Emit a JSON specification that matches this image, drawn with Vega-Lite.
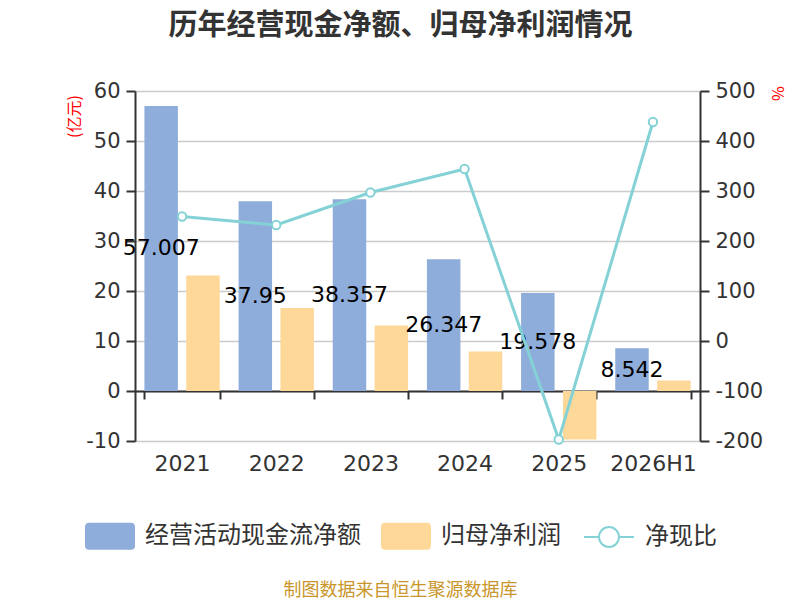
{
  "$schema": "https://vega.github.io/schema/vega-lite/v6.json",
  "autosize": {"type": "none"},
  "width": 565,
  "height": 350,
  "padding": {"left": 135, "top": 91, "right": 100, "bottom": 159},
  "background": "white",
  "config": {
    "font": "Noto Sans CJK SC",
    "view": {"stroke": null}
  },
  "title": {
    "text": "历年经营现金净额、归母净利润情况",
    "fontSize": 29,
    "fontWeight": "bold",
    "color": "#333333",
    "anchor": "middle",
    "dx": -17,
    "offset": 39
  },
  "datasets": {
    "flows": [
      {"year": "2021", "series": "经营活动现金流净额", "value": 57.007},
      {"year": "2022", "series": "经营活动现金流净额", "value": 37.95},
      {"year": "2023", "series": "经营活动现金流净额", "value": 38.357},
      {"year": "2024", "series": "经营活动现金流净额", "value": 26.347},
      {"year": "2025", "series": "经营活动现金流净额", "value": 19.578},
      {"year": "2026H1", "series": "经营活动现金流净额", "value": 8.542},
      {"year": "2021", "series": "归母净利润", "value": 23.1},
      {"year": "2022", "series": "归母净利润", "value": 16.6},
      {"year": "2023", "series": "归母净利润", "value": 13.1},
      {"year": "2024", "series": "归母净利润", "value": 7.9},
      {"year": "2025", "series": "归母净利润", "value": -9.7},
      {"year": "2026H1", "series": "归母净利润", "value": 2.1}
    ],
    "ratio": [
      {"year": "2021", "ratio": 249},
      {"year": "2022", "ratio": 232},
      {"year": "2023", "ratio": 297},
      {"year": "2024", "ratio": 344},
      {"year": "2025", "ratio": -197},
      {"year": "2026H1", "ratio": 438}
    ]
  },
  "encoding": {
    "x": {
      "field": "year",
      "type": "nominal",
      "sort": ["2021", "2022", "2023", "2024", "2025", "2026H1"],
      "scale": {"paddingInner": 0.2, "paddingOuter": 0.1},
      "title": "制图数据来自恒生聚源数据库",
      "axis": {
        "offset": -50,
        "domain": true,
        "domainColor": "#333333",
        "domainWidth": 2,
        "ticks": true,
        "tickBand": "extent",
        "tickColor": "#333333",
        "tickWidth": 2,
        "tickSize": 8,
        "labelAngle": 0,
        "labelPadding": 54,
        "labelFont": "DejaVu Sans",
        "labelFontSize": 22,
        "labelColor": "#333333",
        "grid": false,
        "titleColor": "#C9962B",
        "titleFontSize": 18,
        "titleFontWeight": "normal",
        "titleY": 199,
        "titleBaseline": "middle",
        "titleX": 265
      }
    }
  },
  "layer": [
    {
      "data": {"name": "flows"},
      "mark": {"type": "bar"},
      "encoding": {
        "xOffset": {
          "field": "series",
          "type": "nominal",
          "sort": ["经营活动现金流净额", "归母净利润"],
          "scale": {"paddingInner": 0.2}
        },
        "y": {
          "field": "value",
          "type": "quantitative",
          "scale": {"domain": [-10, 60], "nice": false},
          "title": "(亿元)",
          "axis": {
            "values": [-10, 0, 10, 20, 30, 40, 50, 60],
            "labelExpr": "replace(datum.label, '−', '-')",
            "grid": true,
            "gridColor": "#cccccc",
            "gridWidth": 1.5,
            "domain": true,
            "domainColor": "#333333",
            "domainWidth": 2,
            "tickColor": "#333333",
            "tickWidth": 2,
            "tickSize": 9,
            "labelFont": "DejaVu Sans",
            "labelFontSize": 21,
            "labelColor": "#333333",
            "labelPadding": 6,
            "titleColor": "#ff0000",
            "titleFontSize": 16,
            "titleFontWeight": "normal",
            "titleAnchor": "end",
            "titleX": -61,
            "titleY": 25,
            "titleAlign": "center",
            "titleBaseline": "middle"
          }
        },
        "color": {
          "field": "series",
          "type": "nominal",
          "scale": {
            "domain": ["经营活动现金流净额", "归母净利润"],
            "range": ["#8EADDA", "#FED898"]
          },
          "legend": {
            "title": null,
            "orient": "none",
            "direction": "horizontal",
            "legendX": -50,
            "legendY": 420,
            "symbolType": "M-0.85,-0.54 L0.85,-0.54 A0.15,0.15 0 0 1 1,-0.39 L1,0.39 A0.15,0.15 0 0 1 0.85,0.54 L-0.85,0.54 A0.15,0.15 0 0 1 -1,0.39 L-1,-0.39 A0.15,0.15 0 0 1 -0.85,-0.54 Z",
            "symbolSize": 2500,
            "symbolStrokeWidth": 0,
            "symbolOpacity": 1,
            "labelFontSize": 24,
            "labelColor": "#333333",
            "labelOffset": 10,
            "columnPadding": 20,
            "labelLimit": 300
          }
        }
      }
    },
    {
      "data": {"name": "flows"},
      "transform": [{"filter": "datum.series == '经营活动现金流净额'"}],
      "mark": {"type": "text", "font": "DejaVu Sans", "fontSize": 22, "color": "#000000", "baseline": "middle", "align": "center"},
      "encoding": {
        "xOffset": {"datum": "经营活动现金流净额"},
        "y": {
          "field": "value",
          "type": "quantitative",
          "scale": {"domain": [-20, 120], "nice": false},
          "axis": null
        },
        "text": {"field": "value", "type": "quantitative", "format": ".5~r"}
      }
    },
    {
      "data": {"name": "ratio"},
      "mark": {
        "type": "line",
        "strokeWidth": 3,
        "point": {"filled": false, "fill": "white", "size": 70, "strokeWidth": 2}
      },
      "encoding": {
        "y": {
          "field": "ratio",
          "type": "quantitative",
          "scale": {"domain": [-200, 500], "nice": false},
          "title": "%",
          "axis": {
            "orient": "right",
            "values": [-200, -100, 0, 100, 200, 300, 400, 500],
            "labelExpr": "replace(datum.label, '−', '-')",
            "grid": false,
            "domain": true,
            "domainColor": "#333333",
            "domainWidth": 2,
            "tickColor": "#333333",
            "tickWidth": 2,
            "tickSize": 9,
            "labelFont": "DejaVu Sans",
            "labelFontSize": 21,
            "labelColor": "#333333",
            "labelPadding": 6,
            "titleColor": "#ff0000",
            "titleFontSize": 16,
            "titleFontWeight": "normal",
            "titleX": 76,
            "titleY": 2,
            "titleAlign": "center",
            "titleBaseline": "middle"
          }
        },
        "stroke": {
          "datum": "净现比",
          "scale": {"range": ["#84D2D6"]},
          "legend": {
            "title": null,
            "orient": "none",
            "legendX": 448,
            "legendY": 420,
            "symbolType": "M-1,0 L-0.4,0 M0.4,0 L1,0 M-0.4,0 A0.4,0.4 0 1 0 0.4,0 A0.4,0.4 0 1 0 -0.4,0 Z",
            "symbolSize": 2500,
            "symbolStrokeWidth": 2,
            "symbolFillColor": "white",
            "labelFontSize": 24,
            "labelColor": "#333333",
            "labelOffset": 10
          }
        }
      }
    }
  ],
  "resolve": {"scale": {"y": "independent"}, "axis": {"y": "independent"}}
}
